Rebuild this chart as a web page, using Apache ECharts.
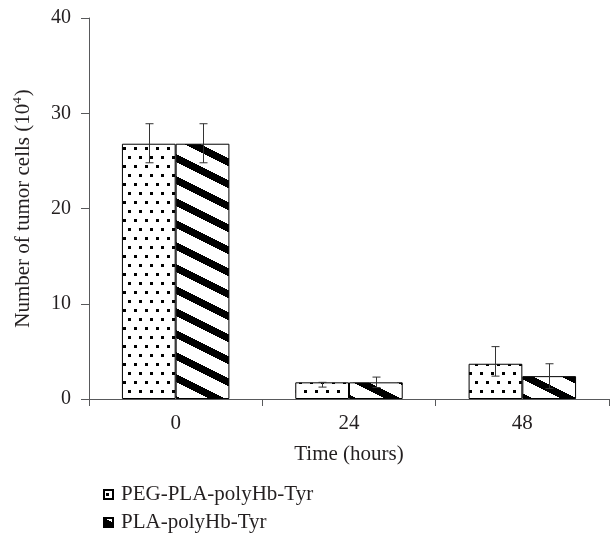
<!DOCTYPE html>
<html>
<head>
<meta charset="utf-8">
<script src="https://cdn.jsdelivr.net/npm/echarts@6/dist/echarts.min.js"></script>
<style>
  html, body { margin: 0; padding: 0; background: #fff; }
  #chart { width: 611px; height: 542px; }
</style>
</head>
<body>
<div id="chart"></div>
<script>
// Time points (hours)
const categories = ['0', '24', '48'];
const seriesNames = ['PEG-PLA-polyHb-Tyr', 'PLA-polyHb-Tyr'];

// Mean number of tumor cells (10^4)
const pegValues = [26.8, 1.75, 3.7];
const plaValues = [26.8, 1.75, 2.4];

// Error bar extents (low / high)
const pegLow = [24.8, 1.25, 2.4];
const pegHigh = [28.9, 1.75, 5.5];
const plaLow = [24.8, 1.2, 1.1];
const plaHigh = [28.9, 2.3, 3.7];

const yTicks = [0, 10, 20, 30, 40];

const FONT = '"Liberation Serif", "DejaVu Serif", serif';
const TEXT = '#231f20';
const AXIS = '#58595b';

// Dotted fill tile
function dotPattern() {
  const w = 11, h = 18;
  const c = document.createElement('canvas');
  c.width = w; c.height = h;
  const g = c.getContext('2d');
  g.fillStyle = '#fff';
  g.fillRect(0, 0, w, h);
  g.fillStyle = '#000';
  g.fillRect(2, 3, 3, 3);
  g.fillRect(7, 12, 3, 3);
  return c;
}

// Diagonal stripe tile (descending to the right)
function stripePattern() {
  const w = 44, h = 22, band = 8;
  const c = document.createElement('canvas');
  c.width = w; c.height = h;
  const g = c.getContext('2d');
  const img = g.createImageData(w, h);
  for (let y = 0; y < h; y++) {
    for (let x = 0; x < w; x++) {
      let v = (y - 0.5 * x) % h;
      if (v < 0) v += h;
      const on = v < band;
      const i = (y * w + x) * 4;
      const col = on ? 0 : 255;
      img.data[i] = col; img.data[i + 1] = col; img.data[i + 2] = col; img.data[i + 3] = 255;
    }
  }
  g.putImageData(img, 0, 0);
  return c;
}

const chart = echarts.init(document.getElementById('chart'), null, { renderer: 'canvas' });

const groupRatio = 0.62;

function errorSeries(low, high, idx) {
  return {
    type: 'custom',
    name: 'err' + idx,
    z: 5,
    silent: true,
    legendHoverLink: false,
    data: categories.map((c, i) => [i, low[i], high[i]]),
    renderItem: function (params, api) {
      const band = api.size([1, 0])[0];
      const barW = band * groupRatio / 2;
      const off = (idx === 0 ? -0.5 : 0.5) * barW;
      const pLow = api.coord([api.value(0), api.value(1)]);
      const pHigh = api.coord([api.value(0), api.value(2)]);
      const x = Math.round(pLow[0] + off) + 0.5;
      const cap = 4;
      const style = { stroke: '#333', lineWidth: 1, fill: null };
      return {
        type: 'group',
        children: [
          { type: 'line', shape: { x1: x, y1: pLow[1], x2: x, y2: pHigh[1] }, style: style },
          { type: 'line', shape: { x1: x - cap, y1: pLow[1], x2: x + cap, y2: pLow[1] }, style: style },
          { type: 'line', shape: { x1: x - cap, y1: pHigh[1], x2: x + cap, y2: pHigh[1] }, style: style }
        ]
      };
    }
  };
}

chart.setOption({
  animation: false,
  backgroundColor: '#fff',
  grid: { left: 89, right: 2, top: 18, bottom: 143, containLabel: false },
  legend: {
    data: seriesNames,
    orient: 'vertical',
    left: 98,
    top: 479,
    icon: 'rect',
    itemWidth: 9,
    itemHeight: 9,
    itemGap: 7,
    textStyle: { fontFamily: FONT, fontSize: 21, color: TEXT, padding: [0, 0, 0, 3] }
  },
  xAxis: {
    type: 'category',
    data: categories,
    name: 'Time (hours)',
    nameLocation: 'middle',
    nameGap: 45,
    nameTextStyle: { fontFamily: FONT, fontSize: 21, color: TEXT },
    axisLine: { lineStyle: { color: AXIS, width: 1 } },
    axisTick: { show: true, length: 7, alignWithLabel: false, lineStyle: { color: AXIS } },
    axisLabel: { fontFamily: FONT, fontSize: 21, color: TEXT, margin: 14 }
  },
  yAxis: {
    type: 'value',
    min: yTicks[0],
    max: yTicks[yTicks.length - 1],
    interval: 10,
    name: '{a|Number of tumor cells (10}{s|4}{a|)}',
    nameLocation: 'middle',
    nameGap: 53,
    nameRotate: 90,
    nameTextStyle: {
      rich: {
        a: { fontFamily: FONT, fontSize: 21, color: TEXT, lineHeight: 25 },
        s: { fontFamily: FONT, fontSize: 13, color: TEXT, verticalAlign: 'top', lineHeight: 25, padding: [0, 1, 9, 0] }
      }
    },
    axisLine: { show: true, lineStyle: { color: AXIS, width: 1 } },
    axisTick: { show: true, length: 8, lineStyle: { color: AXIS } },
    splitLine: { show: false },
    axisLabel: { fontFamily: FONT, fontSize: 20, color: TEXT, margin: 18 }
  },
  series: [
    {
      name: seriesNames[0],
      type: 'bar',
      data: pegValues,
      barGap: '0%',
      barCategoryGap: ((1 - groupRatio) * 100) + '%',
      itemStyle: {
        color: { image: dotPattern(), repeat: 'repeat' },
        borderColor: '#000',
        borderWidth: 1
      }
    },
    {
      name: seriesNames[1],
      type: 'bar',
      data: plaValues,
      barGap: '0%',
      barCategoryGap: ((1 - groupRatio) * 100) + '%',
      itemStyle: {
        color: { image: stripePattern(), repeat: 'repeat' },
        borderColor: '#000',
        borderWidth: 1
      }
    },
    errorSeries(pegLow, pegHigh, 0),
    errorSeries(plaLow, plaHigh, 1)
  ]
});
</script>
</body>
</html>
